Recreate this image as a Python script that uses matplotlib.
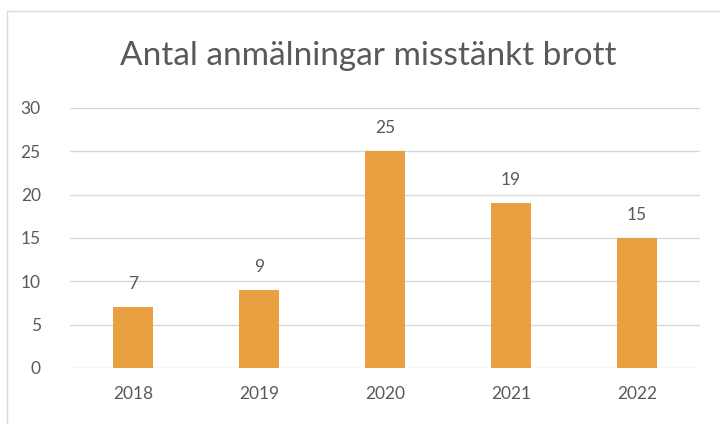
import matplotlib
matplotlib.use("Agg")
import matplotlib.pyplot as plt
from matplotlib.patches import Rectangle

years = ["2018", "2019", "2020", "2021", "2022"]
counts = [7, 9, 25, 19, 15]
title = "Antal anmälningar misstänkt brott"

plt.rcParams['font.family'] = ['Lato', 'DejaVu Sans']
TXT = '#595959'

fig = plt.figure(figsize=(7.2, 4.24), dpi=100, facecolor='white')
# chart border like an Excel chart frame
fig.patches.append(Rectangle((7 / 720, -0.05), 1.2, (424 - 11) / 424 + 0.05,
                             transform=fig.transFigure, facecolor='none',
                             edgecolor='#d9d9d9', linewidth=1.0))

ax = fig.add_axes([70 / 720, (424 - 368) / 424, 630 / 720, 260 / 424])
x = range(len(years))
bars = ax.bar(x, counts, width=0.31, color='#E9A040', zorder=3)
ax.set_xlim(-0.5, len(years) - 0.5)
ax.set_ylim(0, 30)
ax.set_yticks(range(0, 31, 5))
ax.set_xticks(list(x))
ax.set_xticklabels(years)
ax.grid(axis='y', color='#d9d9d9', linewidth=1.0, zorder=0)
for s in ax.spines.values():
    s.set_visible(False)
ax.tick_params(length=0, colors=TXT, labelsize=12.5)
ax.tick_params(axis='y', pad=21)
ax.tick_params(axis='x', pad=13)

for b, v in zip(bars, counts):
    ax.annotate(str(v), (b.get_x() + b.get_width() / 2, v), xytext=(0, 11),
                textcoords='offset points', ha='center', va='bottom',
                fontsize=12.5, color=TXT)

fig.text(368 / 720, 1 - 56 / 424, title, ha='center', va='center',
         fontsize=24, color=TXT)

fig.savefig('out.png', dpi=100, facecolor='white')
